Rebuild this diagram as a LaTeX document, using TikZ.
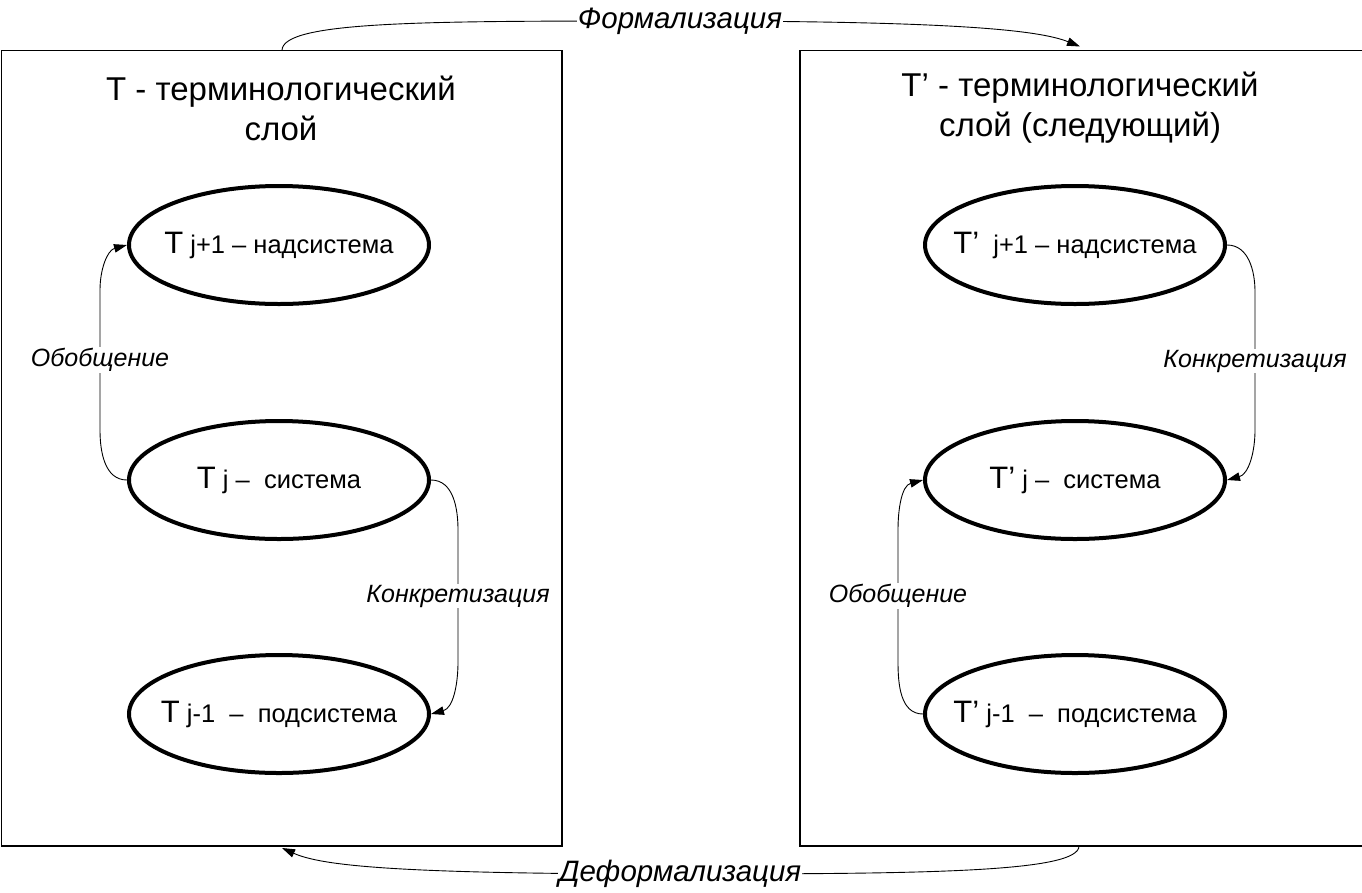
\documentclass[tikz,border=0pt]{standalone}
\usepackage{fontspec}
\setmainfont{Liberation Sans}
\usetikzlibrary{shapes.geometric,arrows.meta}
\newcommand\bigT[1]{{\fontsize{31}{36}\selectfont #1}}
\begin{document}
\begin{tikzpicture}[x=1pt,y=-1pt,
 layer/.style={draw,line width=1.3pt,inner sep=0pt},
 sys/.style={draw,ellipse,line width=4pt,minimum width=300pt,minimum height=118pt,inner sep=0pt},
 systext/.style={font=\fontsize{25.5}{30}\selectfont,inner sep=0pt},
 conn/.style={line width=0.9pt,-{Triangle[length=13pt,width=8.5pt]}},
 lab/.style={fill=white,inner sep=1pt,font=\fontsize{25}{28}\selectfont\itshape},
 biglab/.style={fill=white,inner sep=1pt,font=\fontsize{29.5}{32}\selectfont\itshape},
 ttl/.style={align=center,font=\fontsize{33}{40}\selectfont}]
\useasboundingbox (0,0) rectangle (1362,892);
% layers
\draw[layer] (1.5,50.5) rectangle (562,846);
\draw[layer] (800,50.5) rectangle (1370,846);
\coordinate (lboxN) at (282,50.5);
\coordinate (lboxS) at (282,846);
\coordinate (rboxN) at (1080,50.5);
\coordinate (rboxS) at (1079,846);
% titles
\node[ttl] (lt) at (281,108) {Т - терминологический\\слой};
\node[ttl] (rt) at (1080,108) {Т’ - терминологический\\слой (следующий)};
% left ellipses
\node[sys] (tjp) at (279,245) {};
\node[systext] (tjpt) at (tjp.center) {\bigT{Т} j+1 – надсистема};
\node[sys] (tj)  at (279,480) {};
\node[systext] (tjt) at (tj.center) {\bigT{Т} j –\ \ система};
\node[sys] (tjm) at (279,714) {};
\node[systext] (tjmt) at (tjm.center) {\bigT{Т} j-1\ \ –\ \ подсистема};
% right ellipses
\node[sys] (rjp) at (1075,245) {};
\node[systext] (rjpt) at (rjp.center) {\bigT{Т’}\ \ j+1 – надсистема};
\node[sys] (rj)  at (1075,480) {};
\node[systext] (rjt) at (rj.center) {\bigT{Т’} j –\ \ система};
\node[sys] (rjm) at (1075,714) {};
\node[systext] (rjmt) at (rjm.center) {\bigT{Т’} j-1\ \ –\ \ подсистема};
% bend points
\coordinate (g1) at (100,430);
\coordinate (g2) at (100,290);
\coordinate (k1) at (458,530);
\coordinate (k2) at (458,662);
\coordinate (rk1) at (1255,292);
\coordinate (rk2) at (1255,430);
\coordinate (rg1) at (898,662);
\coordinate (rg2) at (898,530);
\coordinate (fm) at (680,21);
\coordinate (dm) at (680,874);
% connectors
\draw[conn] (tj.west) to[out=180,in=270] (g1) -- node[lab]{Обобщение} (g2) to[out=90,in=195] (tjp.west);
\draw[conn] (tj.east) to[out=0,in=90] (k1) -- node[lab]{Конкретизация} (k2) to[out=270,in=15] (tjm.east);
\draw[conn] (rjp.east) to[out=0,in=90] (rk1) -- node[lab]{Конкретизация} (rk2) to[out=270,in=15] (rj.east);
\draw[conn] (rjm.west) to[out=180,in=270] (rg1) -- node[lab]{Обобщение} (rg2) to[out=90,in=195] (rj.west);
\draw[conn] (lboxN) .. controls +(0,-30) and +(-250,0) .. (fm) .. controls +(280,0) and +(-40,-16) .. ([yshift=4pt]rboxN);
\draw[conn] (rboxS) .. controls +(0,26) and +(250,0) .. (dm) .. controls +(-280,0) and +(40,18) .. ([yshift=-2pt]lboxS);
\node[biglab] (flab) at (fm) {Формализация};
\node[biglab] (dlab) at (dm) {Деформализация};
\end{tikzpicture}
\end{document}
